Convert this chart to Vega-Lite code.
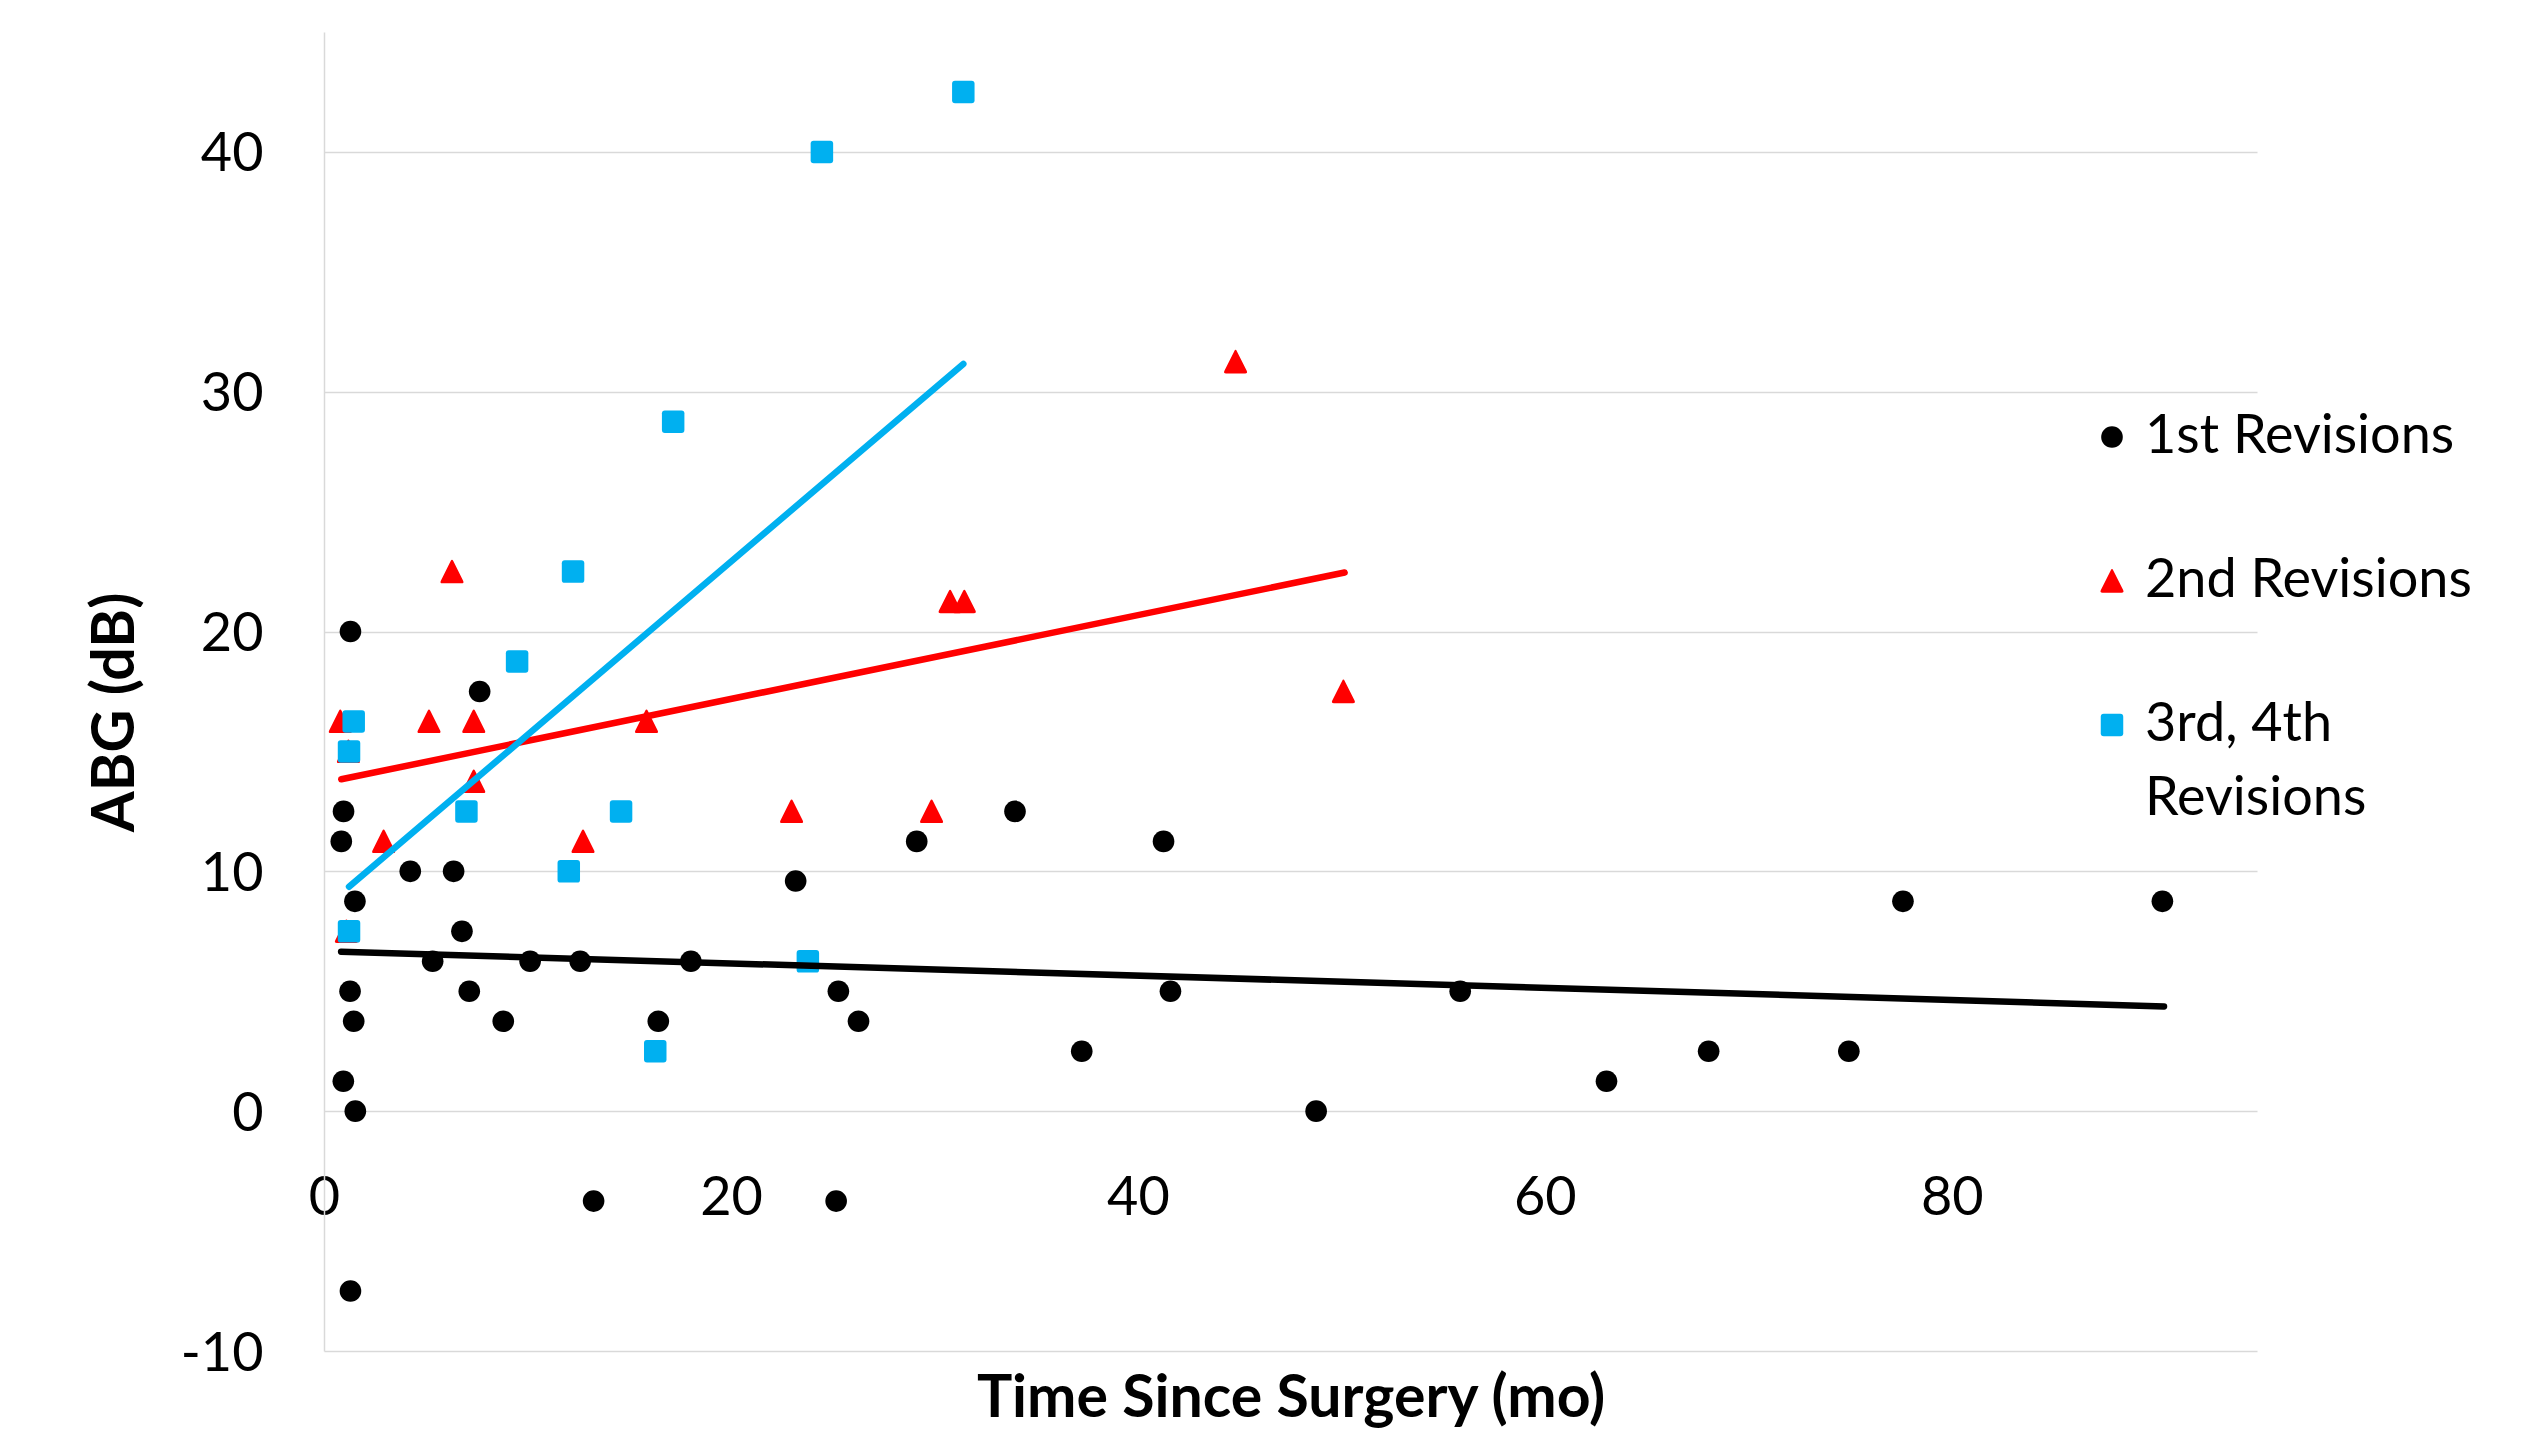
{
  "$schema": "https://vega.github.io/schema/vega-lite/v6.json",
  "width": 1933,
  "height": 1319,
  "autosize": {"type": "none"},
  "padding": {"left": 324, "top": 32, "right": 286, "bottom": 79},
  "background": "white",
  "config": {"view": {"stroke": null}, "font": "Lato"},
  "datasets": {
    "points": [
      {"series": "1st Revisions", "months": 1.3, "abg": 20},
      {"series": "1st Revisions", "months": 7.65, "abg": 17.5},
      {"series": "1st Revisions", "months": 0.96, "abg": 12.5},
      {"series": "1st Revisions", "months": 0.85, "abg": 11.25},
      {"series": "1st Revisions", "months": 4.24, "abg": 10},
      {"series": "1st Revisions", "months": 6.37, "abg": 10},
      {"series": "1st Revisions", "months": 1.52, "abg": 8.75},
      {"series": "1st Revisions", "months": 6.78, "abg": 7.5},
      {"series": "1st Revisions", "months": 5.34, "abg": 6.25},
      {"series": "1st Revisions", "months": 10.13, "abg": 6.25},
      {"series": "1st Revisions", "months": 12.59, "abg": 6.25},
      {"series": "1st Revisions", "months": 18.03, "abg": 6.25},
      {"series": "1st Revisions", "months": 1.28, "abg": 5},
      {"series": "1st Revisions", "months": 7.14, "abg": 5},
      {"series": "1st Revisions", "months": 25.28, "abg": 5},
      {"series": "1st Revisions", "months": 1.46, "abg": 3.75},
      {"series": "1st Revisions", "months": 8.81, "abg": 3.75},
      {"series": "1st Revisions", "months": 16.43, "abg": 3.75},
      {"series": "1st Revisions", "months": 26.27, "abg": 3.75},
      {"series": "1st Revisions", "months": 0.95, "abg": 1.25},
      {"series": "1st Revisions", "months": 1.54, "abg": 0},
      {"series": "1st Revisions", "months": 13.25, "abg": -3.75},
      {"series": "1st Revisions", "months": 25.17, "abg": -3.75},
      {"series": "1st Revisions", "months": 1.3, "abg": -7.5},
      {"series": "1st Revisions", "months": 23.18, "abg": 9.6},
      {"series": "1st Revisions", "months": 29.13, "abg": 11.25},
      {"series": "1st Revisions", "months": 33.96, "abg": 12.5},
      {"series": "1st Revisions", "months": 41.26, "abg": 11.25},
      {"series": "1st Revisions", "months": 41.6, "abg": 5},
      {"series": "1st Revisions", "months": 37.24, "abg": 2.5},
      {"series": "1st Revisions", "months": 48.76, "abg": 0},
      {"series": "1st Revisions", "months": 55.84, "abg": 5},
      {"series": "1st Revisions", "months": 63.03, "abg": 1.25},
      {"series": "1st Revisions", "months": 68.05, "abg": 2.5},
      {"series": "1st Revisions", "months": 74.94, "abg": 2.5},
      {"series": "1st Revisions", "months": 77.6, "abg": 8.75},
      {"series": "1st Revisions", "months": 90.35, "abg": 8.75},
      {"series": "2nd Revisions", "months": 0.8, "abg": 16.25},
      {"series": "2nd Revisions", "months": 1.2, "abg": 15},
      {"series": "2nd Revisions", "months": 1.1, "abg": 7.5},
      {"series": "2nd Revisions", "months": 2.93, "abg": 11.25},
      {"series": "2nd Revisions", "months": 5.16, "abg": 16.25},
      {"series": "2nd Revisions", "months": 6.29, "abg": 22.5},
      {"series": "2nd Revisions", "months": 7.36, "abg": 16.25},
      {"series": "2nd Revisions", "months": 7.36, "abg": 13.75},
      {"series": "2nd Revisions", "months": 12.73, "abg": 11.25},
      {"series": "2nd Revisions", "months": 15.85, "abg": 16.25},
      {"series": "2nd Revisions", "months": 22.98, "abg": 12.5},
      {"series": "2nd Revisions", "months": 29.86, "abg": 12.5},
      {"series": "2nd Revisions", "months": 30.77, "abg": 21.25},
      {"series": "2nd Revisions", "months": 31.47, "abg": 21.25},
      {"series": "2nd Revisions", "months": 44.8, "abg": 31.25},
      {"series": "2nd Revisions", "months": 50.1, "abg": 17.5},
      {"series": "3rd, 4th Revisions", "months": 1.46, "abg": 16.25},
      {"series": "3rd, 4th Revisions", "months": 1.23, "abg": 15},
      {"series": "3rd, 4th Revisions", "months": 1.23, "abg": 7.5},
      {"series": "3rd, 4th Revisions", "months": 7.0, "abg": 12.5},
      {"series": "3rd, 4th Revisions", "months": 9.49, "abg": 18.75},
      {"series": "3rd, 4th Revisions", "months": 12.24, "abg": 22.5},
      {"series": "3rd, 4th Revisions", "months": 12.03, "abg": 10},
      {"series": "3rd, 4th Revisions", "months": 14.6, "abg": 12.5},
      {"series": "3rd, 4th Revisions", "months": 16.28, "abg": 2.5},
      {"series": "3rd, 4th Revisions", "months": 17.16, "abg": 28.75},
      {"series": "3rd, 4th Revisions", "months": 23.78, "abg": 6.25},
      {"series": "3rd, 4th Revisions", "months": 24.47, "abg": 40},
      {"series": "3rd, 4th Revisions", "months": 31.42, "abg": 42.5}
    ],
    "trends": [
      {"series": "1st Revisions", "months": 0.84, "abg": 6.65},
      {"series": "1st Revisions", "months": 90.43, "abg": 4.37},
      {"series": "2nd Revisions", "months": 0.85, "abg": 13.84},
      {"series": "2nd Revisions", "months": 50.16, "abg": 22.46},
      {"series": "3rd, 4th Revisions", "months": 1.23, "abg": 9.36},
      {"series": "3rd, 4th Revisions", "months": 31.42, "abg": 31.16}
    ]
  },
  "layer": [
    {
      "data": {"name": "points"},
      "mark": {"type": "point", "filled": true, "opacity": 1, "size": 700, "strokeWidth": 0},
      "encoding": {
        "x": {
          "field": "months",
          "type": "quantitative",
          "scale": {"domain": [0, 95], "nice": false, "zero": false},
          "axis": {
            "orient": "bottom",
            "offset": -240,
            "values": [0, 20, 40, 60, 80],
            "grid": false,
            "domain": false,
            "ticks": false,
            "tickSize": 0,
            "labelPadding": 60,
            "labelFlush": false,
            "labelFont": "Lato",
            "labelFontSize": 54,
            "labelColor": "#000000",
            "title": "Time Since Surgery (mo)",
            "titleFont": "Lato",
            "titleFontSize": 59,
            "titleFontWeight": "bold",
            "titleColor": "#000000",
            "titleY": 287,
            "titleBaseline": "middle"
          }
        },
        "y": {
          "field": "abg",
          "type": "quantitative",
          "scale": {"domain": [-10, 45], "nice": false, "zero": false},
          "axis": {
            "values": [-10, 0, 10, 20, 30, 40],
            "grid": true,
            "gridColor": "#D9D9D9",
            "gridWidth": 1.5,
            "domain": true,
            "domainColor": "#D9D9D9",
            "domainWidth": 1.5,
            "ticks": false,
            "tickSize": 0,
            "labelPadding": 61,
            "labelOffset": 3,
            "labelFlush": false,
            "labelFont": "Lato",
            "labelFontSize": 54,
            "labelColor": "#000000",
            "labelExpr": "datum.value + ''",
            "title": "ABG (dB)",
            "titleFont": "Lato",
            "titleFontSize": 59,
            "titleFontWeight": "bold",
            "titleColor": "#000000",
            "titleX": -209,
            "titleY": 680,
            "titleAngle": 270,
            "titleAlign": "center",
            "titleBaseline": "middle"
          }
        },
        "color": {
          "field": "series",
          "type": "nominal",
          "scale": {
            "domain": ["1st Revisions", "2nd Revisions", "3rd, 4th Revisions"],
            "range": ["#000000", "#FF0000", "#00B0F0"]
          },
          "legend": {
            "orient": "none",
            "legendX": 1761,
            "legendY": 378,
            "title": null,
            "padding": 0,
            "labelFont": "Lato",
            "labelFontSize": 54,
            "labelColor": "#000000",
            "labelOffset": 6,
            "labelLimit": 1000,
            "rowPadding": 90,
            "symbolSize": 700,
            "symbolStrokeWidth": 0,
            "symbolOpacity": 1,
            "labelExpr": "datum.label == '3rd, 4th Revisions' ? ['3rd, 4th', 'Revisions'] : datum.label",
            "encoding": {
              "labels": {
                "lineHeight": {"value": 74}
              }
            }
          }
        },
        "shape": {
          "field": "series",
          "type": "nominal",
          "scale": {
            "domain": ["1st Revisions", "2nd Revisions", "3rd, 4th Revisions"],
            "range": [
              "M0,-0.818 C0.452,-0.818 0.818,-0.452 0.818,0 C0.818,0.452 0.452,0.818 0,0.818 C-0.452,0.818 -0.818,0.452 -0.818,0 C-0.818,-0.452 -0.452,-0.818 0,-0.818 Z",
              "M-0.098,-0.803 Q0,-1 0.098,-0.803 L0.842,0.683 Q0.94,0.88 0.72,0.88 L-0.72,0.88 Q-0.94,0.88 -0.842,0.683 Z",
              "M-0.63,-0.85 L0.63,-0.85 Q0.85,-0.85 0.85,-0.63 L0.85,0.63 Q0.85,0.85 0.63,0.85 L-0.63,0.85 Q-0.85,0.85 -0.85,0.63 L-0.85,-0.63 Q-0.85,-0.85 -0.63,-0.85 Z"
            ]
          }
        }
      }
    },
    {
      "data": {"name": "trends"},
      "mark": {"type": "line", "strokeWidth": 6.5, "strokeCap": "round"},
      "encoding": {
        "x": {"field": "months", "type": "quantitative"},
        "y": {"field": "abg", "type": "quantitative"},
        "stroke": {
          "field": "series",
          "type": "nominal",
          "scale": {
            "domain": ["1st Revisions", "2nd Revisions", "3rd, 4th Revisions"],
            "range": ["#000000", "#FF0000", "#00B0F0"]
          },
          "legend": null
        }
      }
    }
  ]
}
